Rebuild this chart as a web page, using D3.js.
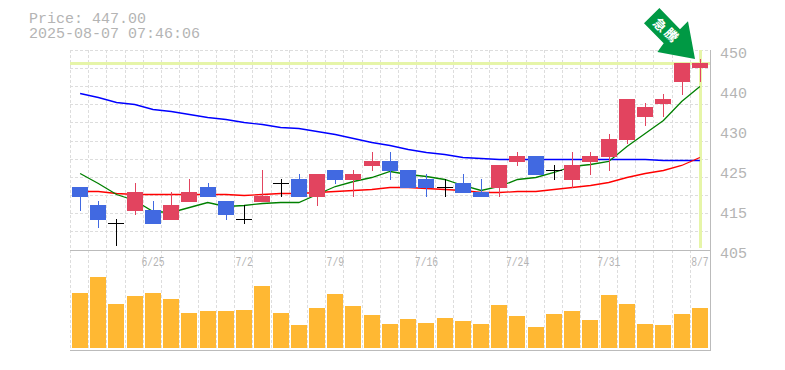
<!DOCTYPE html>
<html>
<head>
<meta charset="utf-8">
<script src="https://cdn.jsdelivr.net/npm/d3@7"></script>
<style>
  html, body { margin: 0; padding: 0; background: #fff; }
  svg { display: block; }
  text { font-family: "Liberation Mono", monospace; fill: #b4b4b4; }
</style>
</head>
<body>
<div id="chart"></div>
<script>
var dates = ["6/19","6/20","6/23","6/24","6/25","6/26","6/27","6/30","7/1","7/2","7/3","7/4","7/7","7/8","7/9","7/10","7/11","7/14","7/15","7/16","7/17","7/18","7/22","7/23","7/24","7/25","7/28","7/29","7/30","7/31","8/1","8/4","8/5","8/6","8/7"];
var dateLabels = ["6/25","7/2","7/9","7/16","7/24","7/31","8/7"];

var opens  = [419,415,411,414,414,412,416,419,416,412,416,420,421,417,423,421,424,425,423,421,419,420,418,419,425,426,423,421,425,426,430,435,438,443,446];
var closes = [417,412,411,418,411,415,418,417,413,412,417,420,417,422,421,422,425,423,419,419,419,418,417,424,426,422,423,424,426,430,439,437,439,447,447];
var highs  = [419,416,412,420,416,418,421,420,416,415,423,421,422,422,423,423,427,427,423,422,421,422,421,424,427,426,424,427,427,431,439,438,440,447,448];
var lows   = [414,410,406,413,411,412,416,417,412,411,416,417,417,415,420,417,423,421,419,417,417,418,417,417,424,422,421,419,422,423,429,433,435,440,443];

var ma5  = [422.25,419.9,417.5,416.2,413.8,413.4,414.6,415.8,414.8,415,415.4,415.8,415.8,417.6,419.4,420.4,421.4,422.6,422,421.6,421,419.6,418.4,419.4,420.8,421.4,422.4,423.8,424.2,425,428.4,431.2,434.2,438.4,441.8];
var ma25 = [418.2,418.1,417.75,417.5,417.45,417.45,417.45,417.45,417.45,417.3,417.45,417.7,417.8,418.05,418.1,418.35,418.6,419.05,419.05,418.8,418.6,418.45,417.9,417.9,418.1,418.25,418.65,419.1,419.55,420.3,421.4,422.3,422.9,424.05,425.8];
var ma75 = [440.2,439.3,438.2,437.8,436.7,436.1,435.5,434.9,434.3,433.7,433.2,432.7,432.3,431.7,431,430.2,429.3,428.6,427.65,427,426.5,425.9,425.55,425.4,425.4,425.4,425.3,425.3,425.3,425.3,425.3,425.3,425.25,425.15,425.1];
var volumes = [55,71,44,52,55,49,35,37,37,38,62,35,23,40,54,42,33,24,29,25,30,27,24,43,32,21,34,37,28,53,44,24,23,34,40];

var priceTicks = [450,441,432,423,414,405];
var priceLabels = ["450","440","430","425","415","405"];
var lastPrice = 447;
var titleLines = ["Price: 447.00","2025-08-07 07:46:06"];
var badgeText = ["急","騰"];

var width = 785, height = 370;
var left = 70, right = 708, axisX = 710;
var priceTop = 50, priceBottom = 250, volTop = 250, volBottom = 350;
var textColor = "#b4b4b4";

var svg = d3.select("#chart").append("svg")
  .attr("width", width)
  .attr("height", height);

var x = d3.scaleBand().domain(dates).range([left, right]);
var y = d3.scaleLinear().domain([405, 450]).range([249.67, 49.67]);
var yVol = d3.scaleLinear().domain([0, 98]).range([348, 250]);

var barLeft = function(d) { return Math.round(x(d)) + 2; };
var barMid = function(d) { return Math.round(x(d)) + 10.5; };

// grid
var gridColor = "#ddd";
var gridY = d3.range(12).map(function(i) { return 450 - i * 45 / 11; });
svg.append("g").selectAll("line").data(gridY).enter().append("line")
  .attr("x1", left).attr("x2", axisX)
  .attr("y1", function(d) { return Math.round(y(d)) + 0.5; })
  .attr("y2", function(d) { return Math.round(y(d)) + 0.5; })
  .attr("stroke", gridColor)
  .attr("stroke-dasharray", "3,2");
svg.append("g").selectAll("line").data(dates).enter().append("line")
  .attr("x1", function(d) { return Math.round(x(d)) + 0.5; })
  .attr("x2", function(d) { return Math.round(x(d)) + 0.5; })
  .attr("y1", priceTop).attr("y2", volBottom)
  .attr("stroke", gridColor)
  .attr("stroke-dasharray", "3,2");

// current price cross
var hiColor = "#e6f5a8";
svg.append("line")
  .attr("x1", left).attr("x2", axisX)
  .attr("y1", Math.round(y(lastPrice)) + 0.5).attr("y2", Math.round(y(lastPrice)) + 0.5)
  .attr("stroke", hiColor).attr("stroke-width", 3);
svg.append("line")
  .attr("x1", barMid(dates[34])).attr("x2", barMid(dates[34]))
  .attr("y1", priceTop).attr("y2", priceBottom - 2)
  .attr("stroke", hiColor).attr("stroke-width", 3);

// frame
svg.append("line").attr("x1", left).attr("x2", axisX + 1).attr("y1", volTop + 0.5).attr("y2", volTop + 0.5).attr("stroke", "#bbb");
svg.append("line").attr("x1", left).attr("x2", axisX + 1).attr("y1", volBottom + 0.5).attr("y2", volBottom + 0.5).attr("stroke", "#bbb");
svg.append("line").attr("x1", axisX + 0.5).attr("x2", axisX + 0.5).attr("y1", priceTop).attr("y2", volBottom + 1).attr("stroke", "#bbb");

// moving averages
var line = d3.line()
  .x(function(d, i) { return x(dates[i]) + x.bandwidth() / 2 + 1; })
  .y(function(d) { return Math.round(y(d)) + 0.5; });
[[ma75, "#0000ff"], [ma25, "#ff0000"], [ma5, "#008000"]].forEach(function(s) {
  svg.append("path")
    .attr("d", line(s[0]))
    .attr("fill", "none")
    .attr("stroke", s[1])
    .attr("stroke-width", 1.3);
});

// candles
var upColor = "#e2445f", downColor = "#4169e1";
var colorOf = function(i) {
  if (closes[i] > opens[i]) return upColor;
  if (closes[i] < opens[i]) return downColor;
  return "#000";
};
var candle = svg.append("g").selectAll("g").data(dates).enter().append("g");
candle.append("rect")
  .attr("x", function(d) { return barMid(d) - 0.5; })
  .attr("width", 1)
  .attr("y", function(d, i) { return Math.round(y(highs[i])); })
  .attr("height", function(d, i) { return Math.round(y(lows[i])) - Math.round(y(highs[i])) + 1; })
  .attr("fill", function(d, i) { return colorOf(i); });
candle.append("rect")
  .attr("x", barLeft)
  .attr("width", 16)
  .attr("y", function(d, i) { return Math.round(y(Math.max(opens[i], closes[i]))); })
  .attr("height", function(d, i) {
    return Math.round(y(Math.min(opens[i], closes[i]))) - Math.round(y(Math.max(opens[i], closes[i]))) + 1;
  })
  .attr("fill", function(d, i) { return colorOf(i); });

// volume
svg.append("g").selectAll("rect").data(volumes).enter().append("rect")
  .attr("x", function(d, i) { return barLeft(dates[i]); })
  .attr("width", 16)
  .attr("y", function(d) { return yVol(d); })
  .attr("height", function(d) { return yVol(0) - yVol(d); })
  .attr("fill", "#ffb833");

// axes
var priceAxis = svg.append("g")
  .attr("transform", "translate(" + axisX + ",0)")
  .call(d3.axisRight(y).tickValues(priceTicks).tickSize(0).tickPadding(10)
    .tickFormat(function(d, i) { return priceLabels[i]; }));
priceAxis.select(".domain").remove();
priceAxis.selectAll("text")
  .attr("dy", "8px")
  .style("font-family", '"Liberation Mono", monospace')
  .style("font-size", "15px")
  .style("fill", textColor);

var dateAxis = svg.append("g")
  .attr("transform", "translate(1," + volTop + ")")
  .call(d3.axisBottom(x).tickValues(dateLabels).tickSize(0).tickPadding(7.5));
dateAxis.select(".domain").remove();
dateAxis.selectAll("text")
  .attr("textLength", function(d) { return d.length * 5.8; })
  .attr("lengthAdjust", "spacingAndGlyphs")
  .style("font-family", '"Liberation Mono", monospace')
  .style("font-size", "12px")
  .style("fill", textColor);

// title
svg.selectAll(".title").data(titleLines).enter().append("text")
  .attr("class", "title")
  .attr("x", 29)
  .attr("y", function(d, i) { return 23 + i * 15; })
  .style("font-size", "15px")
  .text(function(d) { return d; });

// arrow badge pointing at the last candle
var tipX = barMid(dates[34]) - 5.5, tipY = Math.round(y(lastPrice)) - 4;
var badge = svg.append("g").attr("transform", "translate(" + tipX + "," + tipY + ")");
badge.append("path")
  .attr("d", "M0,0 L-37.6,-7 L-31.3,-15.7 L-51,-35.7 L-35.6,-51 L-15,-29.7 L-7,-37.7 Z")
  .attr("fill", "#009944");
badge.selectAll("text").data(badgeText).enter().append("text")
  .attr("transform", function(d, i) {
    return "translate(" + (-35 + i * 11.5) + "," + (-34 + i * 10) + ") rotate(45)";
  })
  .attr("text-anchor", "middle")
  .attr("dy", "0.36em")
  .style("font-family", '"Noto Sans CJK JP", sans-serif')
  .style("font-weight", "700")
  .style("font-size", "13px")
  .style("fill", "#fff")
  .text(function(d) { return d; });
</script>
</body>
</html>
